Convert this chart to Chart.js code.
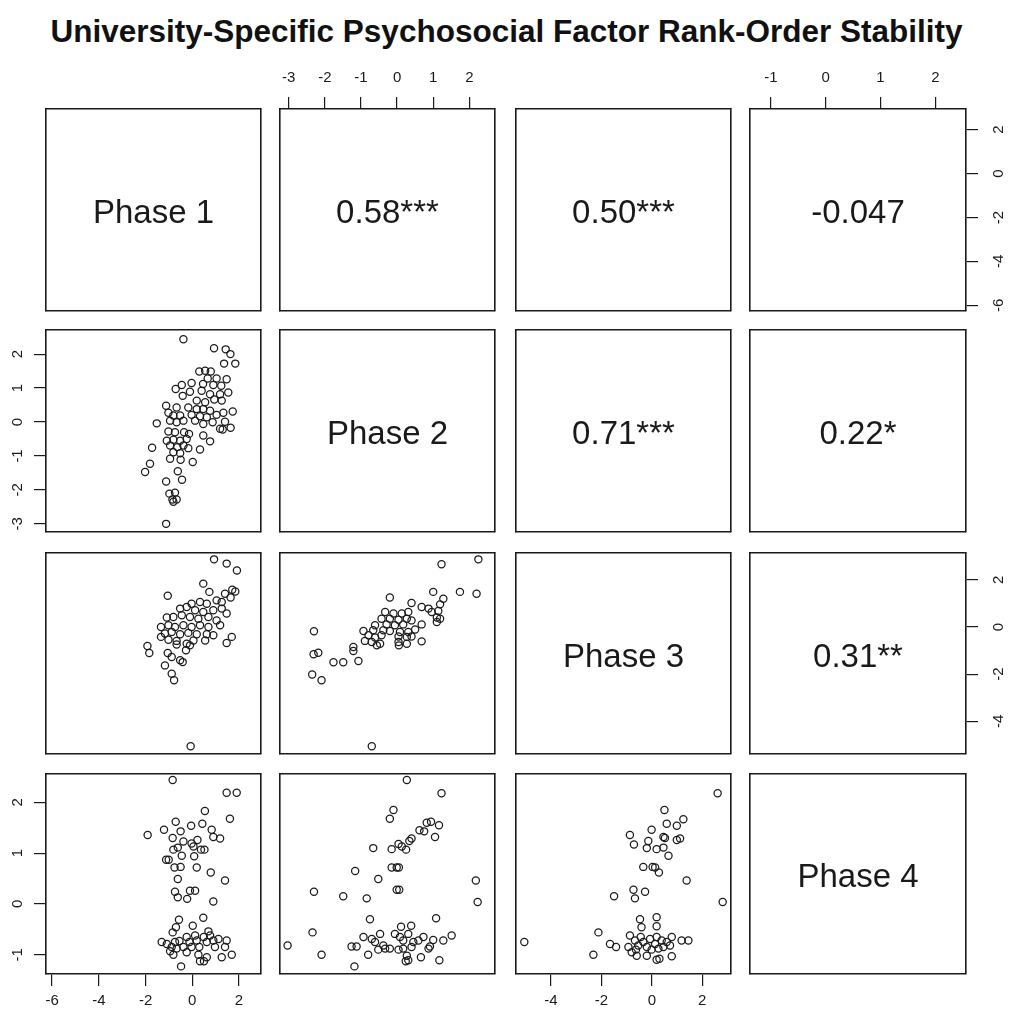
<!DOCTYPE html>
<html><head><meta charset="utf-8">
<script src="https://cdn.jsdelivr.net/npm/chart.js@4/dist/chart.umd.min.js"></script>
<style>
html,body{margin:0;padding:0;background:#fff;}
#wrap{position:relative;width:1013px;height:1021px;overflow:hidden;background:#fff;}
#title{position:absolute;left:0;top:13px;width:1013px;text-align:center;font:bold 31.5px "Liberation Sans",Arial,sans-serif;color:#111;white-space:nowrap;}
canvas{position:absolute;}
</style></head><body>
<div id="wrap"><div id="title">University-Specific Psychosocial Factor Rank-Order Stability</div></div>
<script>
// ---------- DATA ----------
const variables = ["Phase 1", "Phase 2", "Phase 3", "Phase 4"];
const axisRanges = [[-6.26, 2.94], [-3.24, 2.71], [-5.39, 3.14], [-1.38, 2.56]];
const axisTicks = [[-6, -4, -2, 0, 2], [-3, -2, -1, 0, 1, 2], [-4, -2, 0, 2], [-1, 0, 1, 2]];
// upper-triangle correlation labels: [row, col, text]
const correlationLabels = [
  [0, 1, "0.58***"], [0, 2, "0.50***"], [0, 3, "-0.047"],
  [1, 2, "0.71***"], [1, 3, "0.22*"],
  [2, 3, "0.31**"]
];
// lower-triangle scatter data: [x, y]
const phase2VsPhase1 = [[-0.38,2.44],[0.93,2.17],[1.43,2.14],[1.63,2.0],[1.36,1.72],[1.84,1.72],[0.30,1.49],[0.55,1.51],[0.79,1.49],[0.66,1.28],[1.04,1.28],[1.47,1.26],[-0.03,1.15],[-0.45,1.09],[-0.71,0.97],[0.46,1.12],[0.90,1.09],[1.24,1.07],[-0.10,0.89],[-0.41,0.77],[0.40,0.92],[0.76,0.82],[1.19,0.82],[1.54,0.87],[0.19,0.63],[0.55,0.58],[0.94,0.66],[1.26,0.63],[-1.12,0.48],[-0.67,0.43],[-0.17,0.43],[0.19,0.38],[0.47,0.38],[0.76,0.33],[1.33,0.27],[1.73,0.31],[-1.02,0.27],[-0.81,0.19],[-0.52,0.19],[-0.03,0.21],[0.33,0.17],[0.62,0.14],[1.04,0.21],[-1.52,-0.04],[-0.95,0.04],[-0.67,-0.01],[-0.38,0.04],[0.12,0.04],[0.47,-0.06],[0.87,-0.01],[1.40,0.01],[1.19,-0.20],[1.30,-0.22],[1.64,-0.17],[-1.02,-0.28],[-0.74,-0.30],[-0.35,-0.30],[-0.14,-0.35],[0.47,-0.40],[-1.09,-0.55],[-0.81,-0.52],[-0.52,-0.55],[-0.24,-0.50],[0.76,-0.57],[-0.95,-0.69],[-0.64,-0.74],[-0.38,-0.69],[-0.17,-0.77],[0.33,-0.81],[-1.72,-0.76],[-0.81,-0.89],[-0.52,-0.92],[-0.95,-1.08],[-0.50,-1.11],[0.02,-1.18],[-1.81,-1.23],[-2.02,-1.47],[-0.62,-1.45],[-0.44,-1.70],[-1.12,-1.75],[-0.98,-2.11],[-0.74,-2.08],[-0.85,-2.28],[-0.67,-2.28],[-0.81,-2.35],[-1.12,-3.00]];
const phase3VsPhase1 = [[0.93,2.87],[1.47,2.69],[1.91,2.40],[0.47,1.84],[0.73,1.49],[-1.05,1.33],[1.40,1.41],[1.71,1.58],[1.84,1.51],[1.64,1.25],[1.04,1.13],[1.26,1.06],[-0.03,0.99],[0.33,1.06],[0.62,0.99],[-0.52,0.78],[-0.24,0.85],[0.12,0.71],[0.47,0.64],[0.90,0.71],[1.26,0.78],[1.47,0.57],[-1.09,0.40],[-0.81,0.42],[-0.45,0.50],[-0.10,0.42],[0.26,0.35],[0.69,0.42],[1.04,0.28],[-1.34,0.00],[-1.02,0.07],[-0.74,0.00],[-0.38,0.07],[-0.03,0.00],[0.33,0.07],[0.69,0.00],[1.19,0.07],[-1.17,-0.28],[-0.88,-0.21],[-0.52,-0.31],[-0.17,-0.25],[0.19,-0.31],[0.62,-0.31],[0.90,-0.35],[-1.34,-0.42],[-1.02,-0.54],[-0.67,-0.59],[-0.24,-0.71],[0.05,-0.57],[0.55,-0.57],[-0.67,-0.74],[-0.10,-0.78],[1.69,-0.42],[1.47,-0.68],[-1.92,-0.81],[-1.84,-1.10],[-0.27,-0.99],[-1.05,-1.10],[-0.88,-1.27],[-0.52,-1.41],[-0.41,-1.49],[-1.17,-1.63],[-0.88,-1.98],[-0.78,-2.26],[-0.07,-5.06]];
const phase4VsPhase1 = [[-0.84,2.44],[1.47,2.19],[1.90,2.19],[0.54,1.83],[1.61,1.68],[-0.71,1.62],[0.43,1.58],[-1.21,1.46],[-0.50,1.43],[-0.05,1.54],[0.83,1.46],[-1.91,1.36],[-0.84,1.30],[0.90,1.32],[1.19,1.29],[-0.38,1.23],[-0.03,1.19],[0.22,1.26],[-0.62,1.11],[0.05,1.13],[0.37,1.07],[0.52,1.07],[-0.81,1.07],[-0.45,0.95],[0.08,0.94],[-1.12,0.87],[-1.01,0.87],[-0.76,0.72],[-0.50,0.73],[0.19,0.72],[0.79,0.62],[-0.62,0.49],[1.40,0.46],[-0.74,0.24],[-0.10,0.26],[0.12,0.26],[-0.62,0.13],[-0.22,0.10],[0.90,0.05],[-0.57,-0.31],[0.47,-0.27],[-0.70,-0.46],[0.02,-0.43],[-0.84,-0.56],[0.69,-0.54],[-1.31,-0.75],[-1.09,-0.79],[-0.88,-0.85],[-0.74,-0.75],[-0.95,-0.93],[-0.81,-1.00],[-0.67,-0.88],[-0.24,-0.65],[-0.12,-0.75],[-0.03,-0.85],[-0.24,-0.95],[0.12,-0.62],[0.19,-0.72],[0.30,-0.85],[0.49,-0.65],[0.62,-0.75],[0.76,-0.62],[0.90,-0.72],[0.97,-0.85],[1.12,-0.69],[1.47,-0.72],[1.40,-0.85],[1.26,-1.05],[1.69,-1.00],[0.26,-1.00],[0.33,-1.13],[0.50,-1.13],[0.62,-1.05],[-0.48,-1.23],[-0.38,-0.85],[-0.55,-0.73]];
const phase3VsPhase2 = [[2.25,2.87],[1.23,2.66],[1.00,1.49],[1.74,1.49],[2.20,1.41],[-0.20,1.25],[1.28,1.20],[1.19,0.96],[0.40,1.02],[0.68,0.85],[0.87,0.78],[0.96,0.64],[1.14,0.68],[-0.33,0.64],[-0.10,0.57],[0.13,0.57],[0.31,0.64],[1.10,0.40],[1.19,0.35],[-0.43,0.35],[-0.20,0.35],[0.04,0.31],[0.27,0.35],[0.40,0.28],[1.10,0.21],[-0.61,0.07],[-0.29,0.11],[-0.06,0.07],[0.17,0.11],[0.68,0.11],[0.50,-0.11],[-0.38,-0.14],[-0.20,-0.17],[0.08,-0.21],[0.31,-0.21],[-0.93,-0.17],[-0.66,-0.14],[-2.30,-0.18],[-0.79,-0.35],[-0.61,-0.45],[-0.43,-0.35],[0.04,-0.40],[0.27,-0.42],[0.40,-0.40],[0.68,-0.61],[-0.89,-0.59],[-0.70,-0.64],[-0.56,-0.78],[-0.47,-0.71],[0.04,-0.64],[0.05,-0.78],[0.27,-0.71],[-1.21,-0.85],[-1.21,-1.02],[-2.18,-1.09],[-2.31,-1.16],[-1.07,-1.44],[-1.76,-1.50],[-1.49,-1.50],[-2.35,-2.02],[-2.09,-2.26],[-0.70,-5.06]];
const phase4VsPhase2 = [[0.27,2.44],[1.23,2.18],[-0.10,1.85],[-0.20,1.68],[0.82,1.60],[0.94,1.62],[1.16,1.55],[0.62,1.45],[0.75,1.43],[1.05,1.32],[0.40,1.29],[0.34,1.24],[0.04,1.18],[0.13,1.13],[0.25,1.07],[-0.66,1.10],[-0.15,1.08],[-1.16,0.65],[-0.15,0.72],[-0.01,0.72],[0.05,0.72],[-0.52,0.49],[2.18,0.46],[-2.30,0.24],[-1.49,0.15],[-0.84,0.11],[-0.01,0.28],[0.06,0.28],[2.23,0.04],[-0.75,-0.30],[1.08,-0.28],[-2.34,-0.56],[0.11,-0.45],[0.39,-0.43],[-0.47,-0.59],[-0.70,-0.69],[-0.93,-0.65],[-0.61,-0.75],[-0.38,-0.82],[-0.20,-0.88],[-0.06,-0.59],[0.08,-0.65],[0.17,-0.72],[0.31,-0.59],[0.45,-0.75],[0.59,-0.72],[0.73,-0.65],[0.40,-0.85],[0.17,-0.88],[0.91,-0.84],[1.00,-0.71],[1.28,-0.72],[1.51,-0.62],[-3.03,-0.82],[-1.26,-0.84],[-1.12,-0.84],[-0.52,-0.90],[-2.09,-1.00],[-0.80,-1.00],[0.27,-1.02],[0.31,-1.11],[0.24,-1.13],[0.66,-1.05],[1.17,-1.11],[-1.18,-1.23],[-0.33,-0.88],[0.04,-0.90],[0.87,-0.88]];
const phase4VsPhase3 = [[2.61,2.18],[0.50,1.85],[1.25,1.67],[0.59,1.58],[0.99,1.54],[-0.01,1.46],[-0.87,1.36],[-0.14,1.24],[0.46,1.32],[0.52,1.30],[0.99,1.26],[1.12,1.29],[-0.71,1.17],[-0.20,1.10],[0.19,1.08],[0.46,1.11],[0.66,0.95],[-0.34,0.73],[0.03,0.73],[0.13,0.72],[0.28,0.62],[1.38,0.46],[-0.73,0.28],[-0.27,0.24],[-1.50,0.15],[-0.67,0.11],[2.81,0.04],[-0.47,-0.30],[0.19,-0.26],[0.19,-0.44],[-2.12,-0.56],[-0.41,-0.46],[-5.06,-0.75],[-1.66,-0.79],[-1.42,-0.85],[-0.93,-0.85],[-0.87,-0.62],[-0.67,-0.72],[-0.54,-0.82],[-0.63,-0.90],[-0.60,-1.02],[-0.44,-0.65],[-0.34,-0.75],[-0.20,-0.85],[-0.20,-1.02],[-0.07,-0.69],[0.13,-0.79],[0.19,-0.65],[0.39,-0.72],[0.46,-0.85],[0.59,-0.75],[0.79,-0.65],[0.72,-0.82],[1.18,-0.72],[1.45,-0.72],[-2.32,-1.00],[0.19,-1.10],[0.30,-1.08],[0.79,-1.03],[-0.80,-0.95],[-0.01,-0.90],[0.26,-0.88]];
const scatterPanels = {"1,0": phase2VsPhase1, "2,0": phase3VsPhase1, "3,0": phase4VsPhase1,
                       "2,1": phase3VsPhase2, "3,1": phase4VsPhase2, "3,2": phase4VsPhase3};

// ---------- LAYOUT ----------
const colLeft = [46, 280, 516, 750], colW = [215, 215, 215, 216];
const rowTop = [109, 330, 553, 774], rowH = [202, 202, 201, 200];
const M = 48;
const FONT = '"Liberation Sans", Arial, sans-serif';
const INK = '#1a1a1a';

const rotLabels = {
  id: 'rotLabels',
  afterDraw(chart, args, opts) {
    if (!opts || !opts.side) return;
    const s = chart.scales[opts.side === 'left' ? 'y' : 'y2'];
    const ctx = chart.ctx, ca = chart.chartArea;
    ctx.save();
    ctx.fillStyle = INK;
    ctx.font = '15px ' + FONT;
    ctx.textAlign = 'center';
    ctx.textBaseline = 'middle';
    const x = opts.side === 'left' ? ca.left - opts.dist : ca.right + opts.dist;
    opts.values.forEach(v => {
      const y = s.getPixelForValue(v);
      ctx.save(); ctx.translate(x, y); ctx.rotate(-Math.PI / 2);
      ctx.fillText(String(v), 0, 0); ctx.restore();
    });
    ctx.restore();
  }
};
const panelText = {
  id: 'panelText',
  afterDraw(chart, args, opts) {
    if (!opts || !opts.text) return;
    const ctx = chart.ctx, ca = chart.chartArea;
    ctx.save();
    ctx.fillStyle = INK;
    ctx.font = '33px ' + FONT;
    ctx.textAlign = 'center';
    ctx.textBaseline = 'middle';
    ctx.fillText(opts.text, (ca.left + ca.right) / 2, (ca.top + ca.bottom) / 2 + 4);
    ctx.restore();
  }
};

function hScale(pos, show, range, ticks) {
  return {
    type: 'linear', axis: 'x', position: pos, min: range[0], max: range[1], bounds: 'data',
    afterBuildTicks: s => { s.ticks = ticks.map(v => ({ value: v })); },
    afterFit: s => { s.height = M; },
    grid: { display: show, drawOnChartArea: false, drawTicks: true, tickLength: 12, color: INK, lineWidth: 1.2 },
    border: { display: true, color: INK, width: 1.6 },
    ticks: { display: show, color: INK, font: { family: FONT, size: 15 }, padding: pos === 'top' ? 10 : 6, maxRotation: 0, minRotation: 0, autoSkip: false }
  };
}
function vScale(pos, show, range, ticks) {
  return {
    type: 'linear', axis: 'y', position: pos, min: range[0], max: range[1], bounds: 'data',
    afterBuildTicks: s => { s.ticks = ticks.map(v => ({ value: v })); },
    afterFit: s => { s.width = M; },
    grid: { display: show, drawOnChartArea: false, drawTicks: true, tickLength: 12, color: INK, lineWidth: 1.2 },
    border: { display: true, color: INK, width: 1.6 },
    ticks: { display: show, color: 'rgba(0,0,0,0)', font: { family: FONT, size: 15 }, autoSkip: false }
  };
}

const wrap = document.getElementById('wrap');
for (let r = 0; r < 4; r++) {
  for (let c = 0; c < 4; c++) {
    const cv = document.createElement('canvas');
    const w = colW[c] + 2 * M, h = rowH[r] + 2 * M;
    cv.width = w; cv.height = h;
    cv.style.left = (colLeft[c] - M) + 'px';
    cv.style.top = (rowTop[r] - M) + 'px';
    cv.style.width = w + 'px'; cv.style.height = h + 'px';
    wrap.appendChild(cv);

    const showBottom = (r === 3 && c % 2 === 0);
    const showTop = (r === 0 && c % 2 === 1);
    const showLeft = (c === 0 && r % 2 === 1);
    const showRight = (c === 3 && r % 2 === 0);
    const pts = scatterPanels[r + ',' + c];
    let text = null;
    if (r === c) text = variables[r];
    correlationLabels.forEach(l => { if (l[0] === r && l[1] === c) text = l[2]; });

    new Chart(cv, {
      type: 'scatter',
      data: {
        datasets: pts ? [{
          data: pts.map(p => ({ x: p[0], y: p[1] })),
          pointStyle: 'circle', pointRadius: 3.6, borderWidth: 1.25,
          borderColor: INK, backgroundColor: 'rgba(0,0,0,0)', showLine: false, clip: false
        }] : []
      },
      options: {
        responsive: false, animation: false, devicePixelRatio: 1, events: [],
        layout: { padding: 0 },
        plugins: {
          legend: { display: false }, tooltip: { enabled: false },
          panelText: { text: text },
          rotLabels: showLeft ? { side: 'left', dist: 28, values: axisTicks[r] } :
                     showRight ? { side: 'right', dist: 33, values: axisTicks[r] } : { side: null }
        },
        scales: {
          x: hScale('bottom', showBottom, axisRanges[c], axisTicks[c]),
          x2: hScale('top', showTop, axisRanges[c], axisTicks[c]),
          y: vScale('left', showLeft, axisRanges[r], axisTicks[r]),
          y2: vScale('right', showRight, axisRanges[r], axisTicks[r])
        }
      },
      plugins: [rotLabels, panelText]
    });
  }
}
</script>
</body></html>
